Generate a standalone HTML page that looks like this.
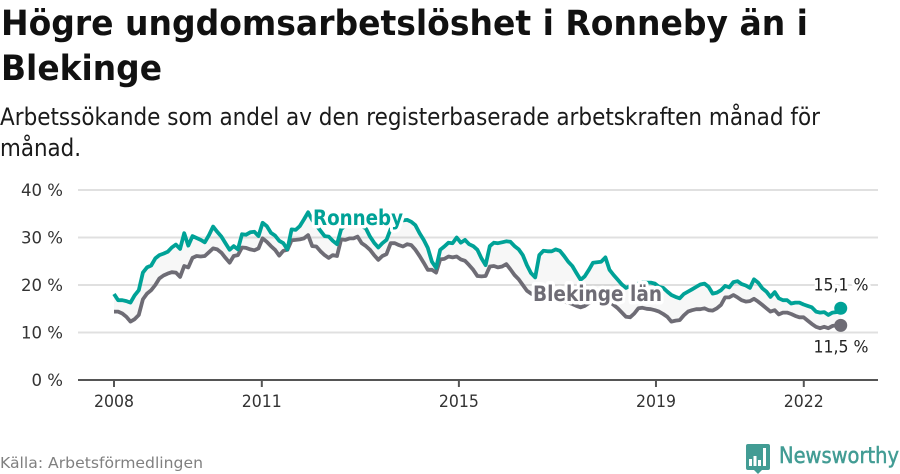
<!DOCTYPE html>
<html lang="sv">
<head>
<meta charset="utf-8">
<title>Högre ungdomsarbetslöshet i Ronneby än i Blekinge</title>
<style>
html,body{margin:0;padding:0;background:#fff;width:900px;height:474px;overflow:hidden}
svg{display:block;font-family:"DejaVu Sans","Liberation Sans",sans-serif}
.title{font-weight:700;font-size:35px;fill:#111}
.sub{font-size:24px;fill:#1a1a1a}
.tick{font-size:16.5px;fill:#333}
.halo{paint-order:stroke;stroke:#fff;stroke-width:7px;stroke-linejoin:round}
</style>
</head>
<body>
<svg id="chart" width="900" height="474" viewBox="0 0 900 474" xmlns="http://www.w3.org/2000/svg">
  <text class="title" x="1" y="35" textLength="807" lengthAdjust="spacingAndGlyphs">Högre ungdomsarbetslöshet i Ronneby än i</text>
  <text class="title" x="1" y="80" textLength="161" lengthAdjust="spacingAndGlyphs">Blekinge</text>
  <text class="sub" x="0" y="125" textLength="820" lengthAdjust="spacingAndGlyphs">Arbetssökande som andel av den registerbaserade arbetskraften månad för</text>
  <text class="sub" x="0" y="156" textLength="81" lengthAdjust="spacingAndGlyphs">månad.</text>
  <g id="plot"></g>
  <text x="0" y="468" font-size="15.5" fill="#808080" textLength="203" lengthAdjust="spacingAndGlyphs">Källa: Arbetsförmedlingen</text>
  <g>
    <path d="M748 444h20a2 2 0 0 1 2 2v22a2 2 0 0 1-2 2h-6l-4 4-4-4h-6a2 2 0 0 1-2-2v-22a2 2 0 0 1 2-2z" fill="#429c94"/>
    <g fill="#fff">
      <rect x="749" y="459" width="3" height="7"/>
      <rect x="753.5" y="456" width="3" height="10"/>
      <rect x="758" y="460" width="3" height="6"/>
      <rect x="763" y="448" width="3" height="18"/>
    </g>
    <text x="779" y="463" font-size="22" font-weight="400" fill="#429c94" stroke="#429c94" stroke-width="0.5" textLength="120" lengthAdjust="spacingAndGlyphs">Newsworthy</text>
  </g>
</svg>
<script>
const ronneby = [18.1,16.8,16.8,16.6,16.3,17.8,18.9,22.6,23.7,24.1,25.6,26.3,26.6,27.0,27.9,28.5,27.6,30.9,28.3,30.3,29.9,29.5,29.0,30.5,32.3,31.2,30.2,28.8,27.4,28.2,27.5,30.7,30.6,31.1,31.2,30.3,33.1,32.4,31.0,30.4,29.3,28.8,27.5,31.7,31.6,32.4,33.8,35.3,33.7,32.6,31.4,30.3,30.2,29.3,28.6,31.7,32.5,33.0,33.0,32.8,32.4,31.9,30.2,28.9,27.9,28.8,29.5,31.8,33.0,33.4,33.6,33.7,33.3,32.6,30.9,29.5,27.8,24.9,23.6,27.4,28.1,28.9,28.8,30.0,28.9,29.5,28.6,28.2,27.4,25.6,24.2,28.2,28.9,28.8,29.0,29.2,29.1,28.2,27.5,26.3,24.2,22.5,21.6,26.3,27.2,27.1,27.1,27.5,27.2,26.1,24.9,24.0,22.5,21.1,21.8,23.2,24.7,24.8,24.9,25.8,23.2,22.1,21.1,20.1,19.4,19.8,20.1,20.3,20.5,20.5,20.5,20.3,19.6,19.4,18.6,17.9,17.5,17.2,18.1,18.6,19.1,19.6,20.1,20.3,19.6,18.2,18.4,18.9,19.8,19.5,20.6,20.8,20.2,19.9,19.4,21.2,20.5,19.3,18.6,17.5,18.5,17.2,16.8,16.8,16.1,16.3,16.3,15.9,15.6,15.3,14.4,14.2,14.3,13.7,14.2,14.3,15.1];
const blekinge = [14.4,14.4,14.0,13.3,12.3,12.8,13.7,17.0,18.2,18.9,20.0,21.4,22.0,22.4,22.7,22.6,21.7,24.0,23.7,25.7,26.1,26.0,26.1,26.9,27.7,27.5,26.8,25.7,24.7,26.1,26.3,27.9,27.8,27.5,27.3,27.7,29.8,29.1,28.2,27.4,26.2,27.2,27.4,29.4,29.5,29.6,29.8,30.5,28.2,28.1,27.1,26.3,25.7,26.3,26.1,29.6,29.5,29.8,29.8,30.2,28.8,28.2,27.4,26.3,25.3,26.1,26.5,28.8,28.8,28.4,28.1,28.6,28.4,27.4,26.1,24.7,23.2,23.2,22.6,25.4,25.5,26.0,25.8,26.0,25.4,25.1,24.2,23.2,21.9,21.8,21.9,23.9,24.0,23.7,23.9,24.4,23.3,22.1,21.2,20.0,18.8,18.2,17.8,17.5,17.4,17.6,17.5,17.0,16.6,16.5,16.3,16.0,15.6,15.3,15.6,16.2,16.8,17.2,17.2,17.4,16.5,15.8,15.1,14.2,13.3,13.2,14.0,15.1,15.2,15.0,14.9,14.7,14.4,13.9,13.3,12.3,12.5,12.6,13.6,14.4,14.7,14.9,14.9,15.1,14.7,14.6,15.1,15.8,17.4,17.4,17.9,17.4,16.8,16.5,16.6,17.1,16.5,15.8,15.1,14.4,14.7,13.8,14.2,14.2,13.9,13.5,13.2,13.2,12.5,11.8,11.2,10.9,11.2,10.9,11.4,11.5,11.5];
const yTicks = [0,10,20,30,40];
const yTickLabels = ["0 %","10 %","20 %","30 %","40 %"];
const xTicks = [2008,2011,2015,2019,2022];
const seriesNames = ["Ronneby","Blekinge län"];

const NS = "http://www.w3.org/2000/svg";
const plot = document.getElementById("plot");
const startYear = 2008, endYear = 2022.75;
function x(year){ return 114 + (year - 2008) * 49.27; }
function y(value){ return 380 - value * 4.75; }
function pointYear(i, n){ return startYear + i / (n - 1) * (endYear - startYear); }
function linePoints(values){
  return values.map(function(v, i){ return x(pointYear(i, values.length)).toFixed(1) + "," + y(v).toFixed(1); });
}
function make(tag, attrs){
  const el = document.createElementNS(NS, tag);
  for (const k in attrs) el.setAttribute(k, attrs[k]);
  plot.appendChild(el);
  return el;
}
function fmt(v){ return v.toFixed(1).replace(".", ",") + " %"; }

yTicks.forEach(function(t, i){
  if (t !== 0) {
    const g = make("line", {x1:78, x2:878, y1:y(t), y2:y(t), stroke:"#e0e0e0", "stroke-width":2});
    
    
  }
  const l = make("text", {x:63, y:y(t)+6, "text-anchor":"end", class:"tick", textLength: yTickLabels[i].length * 10.5, lengthAdjust:"spacingAndGlyphs"});
  l.textContent = yTickLabels[i];
  
  
});

const axis = make("line", {x1:78, x2:878, y1:380, y2:380, stroke:"#555", "stroke-width":2});



xTicks.forEach(function(t){
  const m = make("line", {x1:x(t), x2:x(t), y1:380, y2:387, stroke:"#555", "stroke-width":2});
  
  
  const l = make("text", {x:x(t), y:407, "text-anchor":"middle", class:"tick", textLength:40, lengthAdjust:"spacingAndGlyphs"});
  l.textContent = t;
  
  
});

const area = make("polygon", {points: linePoints(ronneby).concat(linePoints(blekinge).reverse()).join(" "), fill:"#000", "fill-opacity":0.03});



const lineB = make("polyline", {points: linePoints(blekinge).join(" "), fill:"none", stroke:"#6e6c75", "stroke-width":3.8, "stroke-linejoin":"round"});



const lineR = make("polyline", {points: linePoints(ronneby).join(" "), fill:"none", stroke:"#00a297", "stroke-width":3.8, "stroke-linejoin":"round"});



const labelR = make("text", {x:313, y:225, "font-size":21.5, "font-weight":700, fill:"#00a297", class:"halo", textLength:90, lengthAdjust:"spacingAndGlyphs"});
labelR.textContent = seriesNames[0];



const labelB = make("text", {x:533, y:301, "font-size":21.5, "font-weight":700, fill:"#6e6c75", class:"halo", textLength:129, lengthAdjust:"spacingAndGlyphs"});
labelB.textContent = seriesNames[1];



const lastR = ronneby[ronneby.length - 1];
const lastB = blekinge[blekinge.length - 1];

const dotR = make("circle", {cx:x(endYear), cy:y(lastR), r:6.5, fill:"#00a297"});



const dotB = make("circle", {cx:x(endYear), cy:y(lastB), r:6.5, fill:"#6e6c75"});



const valR = make("text", {x:841, y:y(lastR)-18, "text-anchor":"middle", "font-size":17, fill:"#222", class:"halo", textLength:55, lengthAdjust:"spacingAndGlyphs"});
valR.textContent = fmt(lastR);



const valB = make("text", {x:841, y:y(lastB)+27, "text-anchor":"middle", "font-size":17, fill:"#222", class:"halo", textLength:55, lengthAdjust:"spacingAndGlyphs"});
valB.textContent = fmt(lastB);


</script>
</body>
</html>
